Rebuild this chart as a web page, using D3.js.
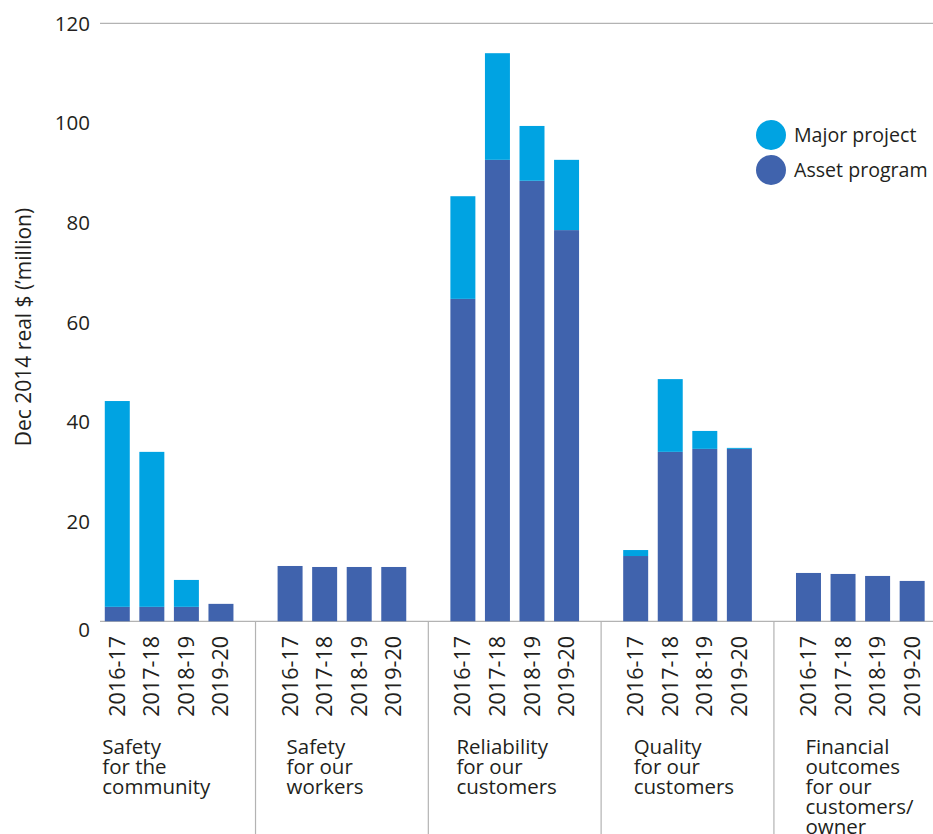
<!DOCTYPE html>
<html>
<head>
<meta charset="utf-8">
<script src="https://cdn.jsdelivr.net/npm/d3@7"></script>
<style>
  html, body { margin: 0; padding: 0; background: #fff; }
  svg { display: block; font-family: "Open Sans", "Noto Sans", sans-serif; }
</style>
</head>
<body>
<svg id="chart" width="933" height="834"></svg>
<script>
// Capital expenditure by customer outcome, Dec 2014 real $ ('million)
const categories = [
  ["Safety", "for the", "community"],
  ["Safety", "for our", "workers"],
  ["Reliability", "for our", "customers"],
  ["Quality", "for our", "customers"],
  ["Financial", "outcomes", "for our", "customers/", "owner"]
];
const years = ["2016-17", "2017-18", "2018-19", "2019-20"];
const assetProgram = [
  [2.9, 2.9, 2.9, 3.5],
  [11.1, 10.9, 10.9, 10.9],
  [64.7, 92.6, 88.4, 78.5],
  [13.1, 34.0, 34.6, 34.6],
  [9.7, 9.5, 9.1, 8.1]
];
const majorProject = [
  [41.3, 31.1, 5.4, 0],
  [0, 0, 0, 0],
  [20.6, 21.4, 11.0, 14.1],
  [1.2, 14.6, 3.6, 0.2],
  [0, 0, 0, 0]
];
const seriesNames = ["Major project", "Asset program"];
const yTicks = [0, 20, 40, 60, 80, 100, 120];

const colors = { "Major project": "#00a3e2", "Asset program": "#4063ad" };
const textColor = "#231f20";
const lineColor = "#b3b3b3";
const labelNudge = [-2.5, 9, 6, 10.5, 9.5];

const W = 933, H = 834;
const svg = d3.select("#chart");

// one slot per bar, plus an empty slot after each group
const slots = [];
categories.forEach((c, g) => {
  years.forEach((yr, j) => slots.push(`${g}|${j}`));
  slots.push(`${g}|gap`);
});

const x = d3.scaleBand()
  .domain(slots)
  .range([100, 964])
  .paddingInner(0.277)
  .paddingOuter(0.1385);

const y = d3.scaleLinear().domain([0, 120]).range([621.3, 23.3]);

// flat rows for stacking
const rows = [];
categories.forEach((c, g) => years.forEach((yr, j) => rows.push({
  key: `${g}|${j}`, g, j,
  "Asset program": assetProgram[g][j],
  "Major project": majorProject[g][j]
})));

const stack = d3.stack().keys(["Asset program", "Major project"]);
const layers = stack(rows);

// top gridline and baseline
[120, 0].forEach(v => {
  svg.append("line")
    .attr("x1", 100).attr("x2", W)
    .attr("y1", y(v)).attr("y2", y(v))
    .attr("stroke", lineColor).attr("stroke-width", 1.2);
});

// group separators
categories.forEach((c, g) => {
  if (g === categories.length - 1) return;
  const gx = x(`${g}|gap`) + x.bandwidth() / 2;
  svg.append("line")
    .attr("x1", gx).attr("x2", gx)
    .attr("y1", y(0)).attr("y2", H)
    .attr("stroke", lineColor).attr("stroke-width", 1.2);
});

// stacked bars
svg.append("g").selectAll("g")
  .data(layers)
  .join("g")
  .attr("fill", d => colors[d.key])
  .selectAll("rect")
  .data(d => d)
  .join("rect")
  .attr("x", d => x(d.data.key))
  .attr("width", x.bandwidth())
  .attr("y", d => y(d[1]))
  .attr("height", d => Math.max(0, y(d[0]) - y(d[1])));

// y axis labels
const yAxis = d3.axisLeft(y).tickValues(yTicks).tickSize(0).tickPadding(10);
const yg = svg.append("g").attr("transform", "translate(100,0)").call(yAxis);
yg.select(".domain").remove();
yg.selectAll("text")
  .attr("fill", textColor)
  .style("font-size", "20.5px")
  .style("font-family", "'Open Sans', sans-serif")
  .attr("dy", d => d === 0 ? "0.72em" : "0.34em");

// y axis title
svg.append("text")
  .attr("transform", "translate(31,327) rotate(-90)")
  .attr("text-anchor", "middle")
  .attr("fill", textColor)
  .style("font-size", "21px")
  .text("Dec 2014 real $ (\u2019million)");

// year labels under each bar
svg.append("g").selectAll("text")
  .data(rows)
  .join("text")
  .attr("transform", d => `translate(${x(d.key) + x.bandwidth() / 2 + 7.5},636) rotate(-90)`)
  .attr("text-anchor", "end")
  .attr("fill", textColor)
  .style("font-size", "21.5px")
  .text(d => years[d.j]);

// category labels
categories.forEach((lines, g) => {
  const t = svg.append("text")
    .attr("fill", textColor)
    .style("font-size", "20.5px");
  lines.forEach((ln, i) => {
    t.append("tspan")
      .attr("x", x(`${g}|0`) + labelNudge[g])
      .attr("y", 754 + i * 20)
      .text(ln);
  });
});

// legend
const legend = svg.append("g");
seriesNames.forEach((s, i) => {
  legend.append("circle")
    .attr("cx", 771).attr("cy", 135 + i * 35).attr("r", 15)
    .attr("fill", colors[s]);
  legend.append("text")
    .attr("x", 794).attr("y", 135 + i * 35)
    .attr("dy", "0.35em")
    .attr("fill", textColor)
    .style("font-size", "19.6px")
    .text(s);
});
</script>
</body>
</html>
